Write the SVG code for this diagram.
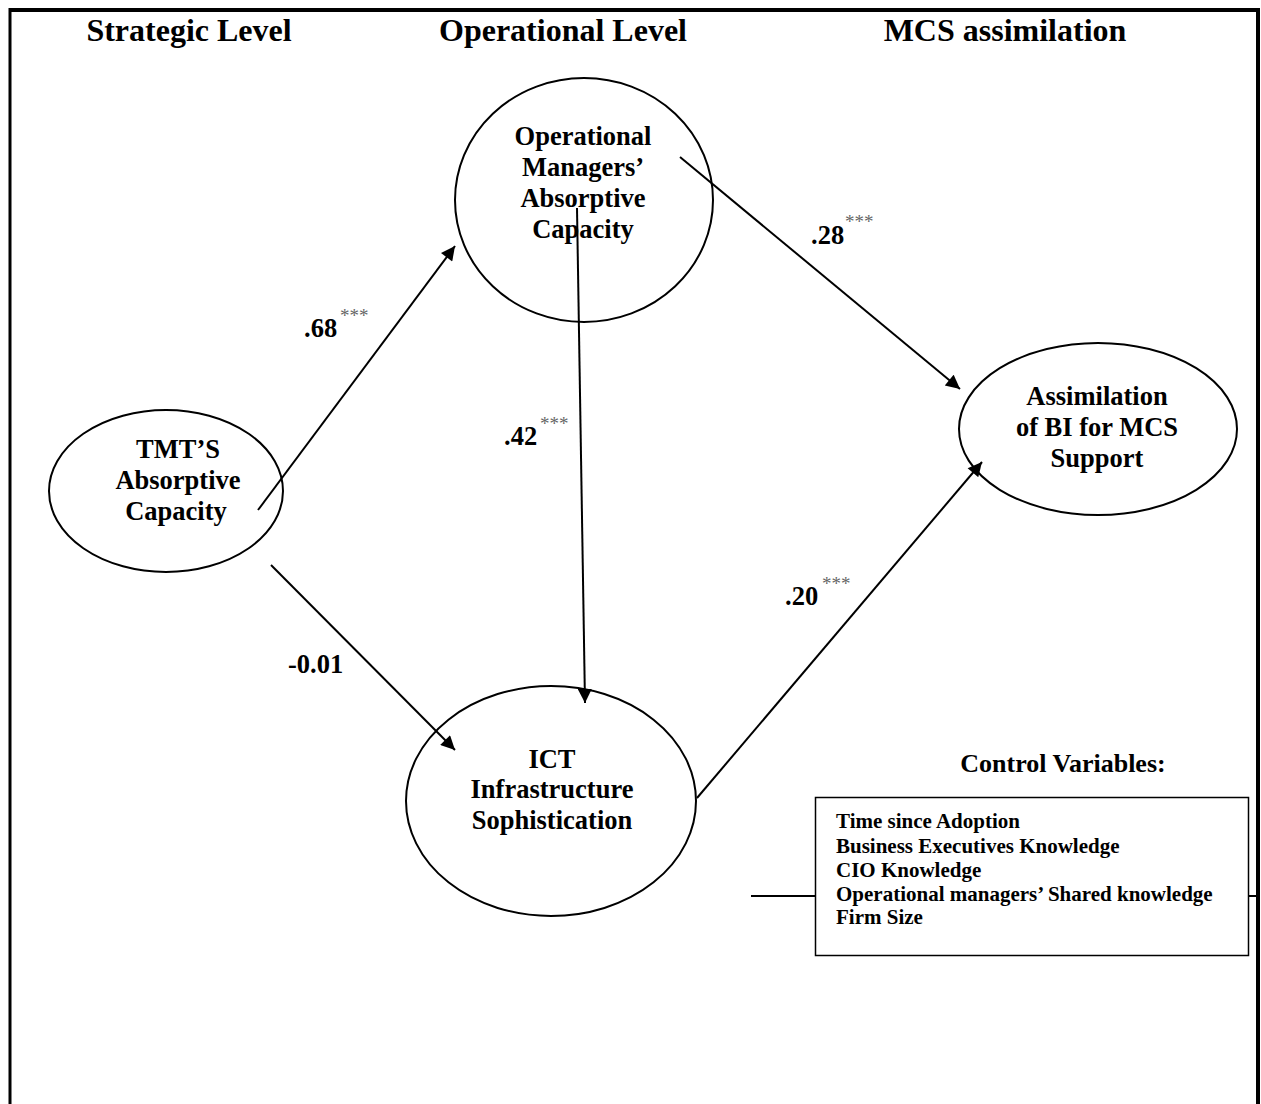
<svg xmlns="http://www.w3.org/2000/svg" width="1261" height="1104" viewBox="0 0 1261 1104">
  <style>
    .hdr { font-family: "Liberation Serif", "Times New Roman", serif; font-weight: bold; font-size: 32px; fill: #000; text-anchor: middle; }
    .node-shape { fill: none; stroke: #000; stroke-width: 2; }
    .node-label { font-family: "Liberation Serif", "Times New Roman", serif; font-weight: bold; font-size: 26.5px; fill: #000; text-anchor: middle; }
    .coef { font-family: "Liberation Serif", "Times New Roman", serif; font-weight: bold; font-size: 26.5px; fill: #000; }
    .sig { font-family: "Liberation Serif", "Times New Roman", serif; font-size: 19px; fill: #666; }
    .edge { stroke: #000; stroke-width: 2; fill: none; marker-end: url(#arrow); }
    .plain { stroke: #000; stroke-width: 2; fill: none; }
    .ctl-title { font-family: "Liberation Serif", "Times New Roman", serif; font-weight: bold; font-size: 26px; fill: #000; text-anchor: middle; }
    .ctl { font-family: "Liberation Serif", "Times New Roman", serif; font-weight: bold; font-size: 21px; fill: #000; }
  </style>
  <defs>
    <marker id="arrow" viewBox="0 0 10 10" refX="10" refY="5" markerWidth="8" markerHeight="7" markerUnits="strokeWidth" orient="auto">
      <path d="M0,0 L10,5 L0,10 z" fill="#000"/>
    </marker>
  </defs>

  <rect width="1261" height="1104" fill="#fff"/>

  <!-- page frame -->
  <path d="M10,10 H1258 V1104" fill="none" stroke="#000" stroke-width="4"/>
  <line x1="10" y1="8" x2="10" y2="1104" stroke="#000" stroke-width="3"/>

  <!-- column headings -->
  <text class="hdr" x="189" y="41">Strategic Level</text>
  <text class="hdr" x="563" y="41">Operational Level</text>
  <text class="hdr" x="1005" y="41">MCS assimilation</text>

  <!-- paths between constructs -->
  <g id="connectors">
    <line class="edge" x1="258" y1="510" x2="455" y2="246"/>
    <line class="edge" x1="680" y1="157" x2="960" y2="389"/>
    <line class="edge" x1="577" y1="208" x2="585" y2="703"/>
    <line class="edge" x1="271" y1="565" x2="455" y2="750"/>
    <line class="edge" x1="697" y1="798" x2="982" y2="462"/>
    <line class="plain" x1="751" y1="896" x2="815" y2="896"/>
    <line class="plain" x1="1248" y1="896" x2="1258" y2="896"/>
  </g>

  <!-- path coefficients -->
  <g id="coefficients">
    <text class="coef" x="304" y="337">.68</text><text class="sig" x="340" y="322">***</text>
    <text class="coef" x="811" y="244">.28</text><text class="sig" x="845" y="228">***</text>
    <text class="coef" x="504" y="445">.42</text><text class="sig" x="540" y="430">***</text>
    <text class="coef" x="785" y="605">.20</text><text class="sig" x="822" y="590">***</text>
    <text class="coef" x="288" y="673">-0.01</text>
  </g>

  <g id="tmt">
    <ellipse class="node-shape" cx="166" cy="491" rx="117" ry="81"/>
    <text class="node-label" x="178" y="458">TMT’S</text>
    <text class="node-label" x="178" y="489">Absorptive</text>
    <text class="node-label" x="176" y="520">Capacity</text>
  </g>

  <g id="op-managers">
    <ellipse class="node-shape" cx="584" cy="200" rx="129" ry="122"/>
    <text class="node-label" x="583" y="145">Operational</text>
    <text class="node-label" x="583" y="176">Managers’</text>
    <text class="node-label" x="583" y="207">Absorptive</text>
    <text class="node-label" x="583" y="238">Capacity</text>
  </g>

  <g id="assimilation">
    <ellipse class="node-shape" cx="1098" cy="429" rx="139" ry="86"/>
    <text class="node-label" x="1097" y="405">Assimilation</text>
    <text class="node-label" x="1097" y="436">of BI for MCS</text>
    <text class="node-label" x="1097" y="467">Support</text>
  </g>

  <g id="ict">
    <ellipse class="node-shape" cx="551" cy="801" rx="145" ry="115"/>
    <text class="node-label" x="552" y="768">ICT</text>
    <text class="node-label" x="552" y="798">Infrastructure</text>
    <text class="node-label" x="552" y="829">Sophistication</text>
  </g>

  <g id="controls">
    <text class="ctl-title" x="1063" y="772">Control Variables:</text>
    <rect x="815.5" y="797.5" width="433" height="158" fill="none" stroke="#000" stroke-width="1.5"/>
    <text class="ctl" x="836" y="828">Time since Adoption</text>
    <text class="ctl" x="836" y="853">Business Executives Knowledge</text>
    <text class="ctl" x="836" y="877">CIO Knowledge</text>
    <text class="ctl" x="836" y="901">Operational managers’ Shared knowledge</text>
    <text class="ctl" x="836" y="924">Firm Size</text>
  </g>
</svg>
